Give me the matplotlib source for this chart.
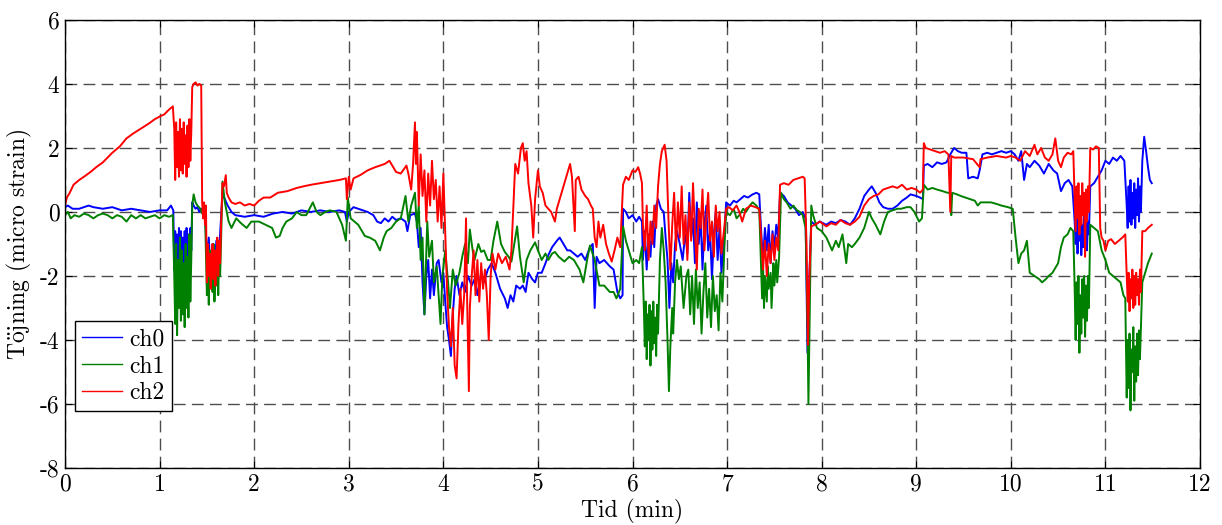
import matplotlib
matplotlib.use('Agg')
import matplotlib.pyplot as plt
import numpy as np

# ==========================================
# DATA (time in minutes, strain in micro strain)
# ==========================================
ch0_pts = [
    (0.0, 0.15), (0.03, 0.2), (0.08, 0.1), (0.15, 0.1), (0.25, 0.2), (0.3, 0.15), (0.4, 0.1), (0.5, 0.15),
    (0.6, 0.05), (0.7, 0.1), (0.8, 0.05), (0.9, 0.0), (1.0, 0.05), (1.08, 0.05), (1.12, 0.2), (1.145, 0.05),
    (1.155, -1.8), (1.165, -0.6), (1.175, -1.9), (1.185, -0.7), (1.195, -2.0), (1.205, -0.5), (1.215, -1.7),
    (1.225, -0.6), (1.235, -1.9), (1.245, -0.8), (1.255, -2.0), (1.265, -0.6), (1.275, -1.8), (1.285, -0.5),
    (1.295, -1.9), (1.305, -0.7), (1.315, -1.8), (1.325, -0.5), (1.335, -1.2),
    (1.345, 0.3), (1.36, 0.2), (1.38, 0.1), (1.4, 0.15), (1.42, 0.0), (1.44, 0.1), (1.46, 0.0), (1.48, 0.1),
    (1.5, -1.5), (1.52, -0.8), (1.54, -2.0), (1.56, -1.0), (1.58, -1.8), (1.6, -0.9), (1.62, -1.7), (1.64, -0.7),
    (1.665, 0.6), (1.69, 0.4), (1.72, 0.2), (1.76, 0.0), (1.8, -0.1), (1.9, -0.15), (2.0, -0.1), (2.1, -0.15),
    (2.2, -0.05), (2.3, 0.0), (2.4, -0.05), (2.5, 0.05), (2.6, 0.0), (2.7, 0.05), (2.8, 0.0), (2.9, 0.05),
    (2.96, 0.0), (2.98, -0.3), (3.0, 0.0), (3.05, 0.15), (3.1, 0.1), (3.2, 0.0), (3.26, -0.1), (3.3, -0.3),
    (3.34, -0.35), (3.38, -0.2), (3.42, -0.3), (3.46, -0.15), (3.5, -0.25), (3.55, -0.2), (3.6, -0.3),
    (3.62, -0.6), (3.65, -0.1), (3.7, -0.05), (3.72, -0.3), (3.74, -1.1), (3.76, -0.5), (3.78, -2.2),
    (3.8, -3.2), (3.82, -2.0), (3.84, -1.5), (3.86, -2.7), (3.88, -1.8), (3.9, -2.6), (3.93, -1.6),
    (3.95, -1.5), (3.98, -2.2), (4.0, -1.9), (4.02, -2.8), (4.04, -3.6), (4.06, -4.0), (4.08, -4.5),
    (4.1, -3.2), (4.12, -2.4), (4.14, -2.0), (4.17, -2.6), (4.2, -2.2), (4.23, -2.5), (4.26, -2.0),
    (4.3, -2.3), (4.33, -2.1), (4.36, -2.6), (4.4, -1.9), (4.43, -2.2), (4.47, -1.8), (4.51, -1.6),
    (4.55, -1.9), (4.6, -2.4), (4.65, -2.7), (4.68, -3.0), (4.71, -2.6), (4.74, -2.8), (4.77, -2.3),
    (4.81, -2.4), (4.84, -2.3), (4.87, -2.5), (4.9, -1.9), (4.94, -2.1), (4.97, -2.2), (5.0, -1.9),
    (5.04, -1.9), (5.08, -1.6), (5.11, -1.35), (5.15, -1.1), (5.2, -0.9), (5.23, -0.8), (5.27, -1.0),
    (5.31, -1.2), (5.34, -1.2), (5.38, -1.3), (5.42, -1.4), (5.46, -1.3), (5.5, -1.5), (5.55, -1.1),
    (5.58, -1.0), (5.6, -3.0), (5.62, -1.4), (5.65, -1.6), (5.7, -1.5), (5.76, -1.7), (5.8, -1.8),
    (5.84, -2.5), (5.87, -2.7), (5.895, -2.6), (5.9, 0.1), (5.93, 0.0), (5.96, -0.2), (6.0, -0.1),
    (6.04, -0.3), (6.07, -0.15), (6.1, -0.3), (6.11, -1.5), (6.13, -0.6), (6.15, -1.8), (6.17, -0.7),
    (6.19, -1.4), (6.21, -0.3), (6.23, -1.1), (6.25, 0.2), (6.27, 0.4), (6.3, 0.1), (6.33, 0.0),
    (6.35, -0.8), (6.37, -1.5), (6.39, -3.0), (6.41, -1.6), (6.43, -2.2), (6.45, -1.0), (6.47, -0.6),
    (6.5, -1.0), (6.53, -1.5), (6.56, -0.6), (6.58, -1.3),
    (6.6, 0.6), (6.62, -0.8), (6.64, -0.2), (6.66, -1.6), (6.68, 0.3), (6.7, -1.0), (6.72, -0.1),
    (6.74, -1.8), (6.76, -0.4), (6.78, 0.2), (6.8, -1.2), (6.82, -0.6), (6.84, -2.1), (6.86, -0.7),
    (6.88, 0.0), (6.9, -1.5), (6.92, -0.5), (6.94, -1.9), (6.97, -0.8),
    (6.99, 0.3), (7.03, 0.2), (7.07, 0.35), (7.1, 0.3), (7.14, 0.4), (7.18, 0.5), (7.22, 0.45), (7.27, 0.55),
    (7.31, 0.6), (7.34, 0.55), (7.36, -0.6), (7.38, -1.5), (7.4, -0.5), (7.42, -1.2), (7.44, -0.4),
    (7.46, -1.6), (7.48, -0.6), (7.5, -1.1), (7.52, -0.4), (7.54, -0.8), (7.56, 0.6), (7.6, 0.5),
    (7.64, 0.3), (7.68, 0.2), (7.72, 0.1), (7.76, -0.1), (7.8, 0.0), (7.83, -0.2), (7.85, -4.4),
    (7.87, -2.0), (7.89, -0.3), (7.93, -0.4), (7.98, -0.3), (8.05, -0.4), (8.1, -0.3), (8.15, -0.35),
    (8.2, -0.25), (8.25, -0.3), (8.3, -0.4), (8.35, -0.2), (8.4, 0.1), (8.45, 0.5), (8.5, 0.7), (8.53, 0.8),
    (8.57, 0.6), (8.61, 0.3), (8.65, 0.15), (8.7, 0.1), (8.75, 0.1), (8.8, 0.2), (8.85, 0.35), (8.9, 0.45),
    (8.94, 0.55), (9.0, 0.5), (9.04, 0.45), (9.07, 0.4),
    (9.08, 1.45), (9.12, 1.5), (9.17, 1.4), (9.22, 1.55), (9.27, 1.5), (9.32, 1.55), (9.36, 1.8), (9.4, 2.0),
    (9.44, 1.9), (9.48, 1.85), (9.53, 1.85), (9.55, 1.05), (9.6, 1.1), (9.65, 1.05), (9.67, 1.3), (9.7, 1.8),
    (9.75, 1.85), (9.8, 1.8), (9.85, 1.85), (9.9, 1.9), (9.95, 1.85), (10.0, 1.9), (10.04, 1.8),
    (10.08, 1.6), (10.11, 1.9), (10.14, 1.0), (10.17, 1.5), (10.2, 1.4), (10.25, 1.6), (10.3, 1.45),
    (10.35, 1.2), (10.4, 1.5), (10.45, 1.3), (10.49, 1.2), (10.53, 0.65), (10.57, 0.9), (10.61, 1.0),
    (10.65, 0.8),
    (10.675, -0.3), (10.685, -1.0), (10.695, 0.1), (10.705, -1.3), (10.715, -0.2), (10.725, -0.9),
    (10.735, 0.0), (10.745, -1.35), (10.755, -0.4), (10.765, -1.1), (10.775, 0.1), (10.785, -0.8),
    (10.795, -0.1), (10.805, -1.2), (10.815, -0.3), (10.825, -0.7),
    (10.84, 0.8), (10.88, 0.9), (10.92, 1.1), (10.96, 1.3), (11.0, 1.6), (11.04, 1.5), (11.08, 1.7),
    (11.12, 1.6), (11.16, 1.75), (11.2, 1.6),
    (11.225, 0.2), (11.235, -0.5), (11.245, 0.8), (11.255, -0.3), (11.265, 1.0), (11.275, -0.4),
    (11.285, 0.6), (11.295, -0.2), (11.305, 0.9), (11.315, -0.5), (11.325, 0.7), (11.335, -0.1),
    (11.345, 1.05), (11.355, -0.3), (11.365, 0.8), (11.375, 0.0),
    (11.39, 1.6), (11.41, 2.35), (11.43, 1.9), (11.45, 1.4), (11.47, 1.0), (11.49, 0.9),
]

ch1_pts = [
    (0.0, -0.1), (0.03, 0.0), (0.06, -0.2), (0.1, -0.1), (0.15, -0.15), (0.2, -0.05), (0.25, -0.1),
    (0.3, -0.2), (0.35, -0.1), (0.4, -0.05), (0.45, -0.1), (0.5, -0.2), (0.55, -0.1), (0.6, -0.15),
    (0.65, -0.3), (0.7, -0.1), (0.75, -0.2), (0.8, -0.1), (0.85, -0.2), (0.9, -0.15), (0.95, -0.1),
    (1.0, -0.2), (1.05, -0.1), (1.1, -0.15), (1.14, -0.1),
    (1.155, -2.0), (1.165, -3.5), (1.175, -1.0), (1.185, -3.85), (1.195, -1.5), (1.205, -3.0),
    (1.215, -0.8), (1.225, -3.4), (1.235, -1.2), (1.245, -3.2), (1.255, -1.6), (1.265, -3.6),
    (1.275, -1.0), (1.285, -3.0), (1.295, -1.4), (1.305, -3.3), (1.315, -0.7), (1.325, -2.8), (1.335, -1.5),
    (1.345, 0.2), (1.36, 0.55), (1.38, 0.3), (1.4, 0.2), (1.43, 0.1), (1.46, -0.1), (1.48, 0.0),
    (1.5, -2.6), (1.51, -1.4), (1.52, -2.9), (1.53, -1.2), (1.54, -2.2), (1.55, -1.6), (1.56, -2.5),
    (1.57, -1.0), (1.58, -2.8), (1.59, -1.8), (1.6, -2.3), (1.61, -1.1), (1.62, -2.6), (1.63, -1.3),
    (1.64, -2.0), (1.65, -0.9),
    (1.665, 0.95), (1.69, 0.3), (1.73, -0.3), (1.76, -0.5), (1.81, -0.2), (1.86, -0.35), (1.92, -0.5),
    (1.97, -0.3), (2.05, -0.3), (2.12, -0.4), (2.19, -0.5), (2.23, -0.8), (2.27, -0.75), (2.3, -0.5),
    (2.34, -0.3), (2.4, -0.2), (2.45, 0.0), (2.5, -0.1), (2.55, -0.1), (2.62, 0.3), (2.66, 0.0),
    (2.7, -0.1), (2.75, 0.0), (2.8, 0.05), (2.87, 0.0), (2.93, -0.4), (2.97, -0.9), (2.99, 0.45),
    (3.02, -0.2), (3.06, -0.3), (3.1, -0.4), (3.17, -0.75), (3.22, -0.8), (3.28, -0.9), (3.33, -1.2),
    (3.37, -0.8), (3.4, -0.6), (3.45, -0.5), (3.5, -0.3), (3.55, -0.2), (3.6, 0.5), (3.63, -0.3),
    (3.66, 0.2), (3.7, 0.6), (3.72, -0.5), (3.74, 0.2), (3.76, -1.5), (3.78, -0.8), (3.8, -3.2),
    (3.82, -1.2), (3.83, -0.3), (3.85, -1.4), (3.88, -0.9), (3.9, -2.2), (3.93, -1.7), (3.95, -2.6),
    (3.97, -3.5), (3.99, -2.0), (4.02, -1.2), (4.05, -2.2), (4.07, -3.0), (4.1, -1.8), (4.13, -2.3),
    (4.17, -1.9), (4.2, -1.4), (4.23, -1.0), (4.26, -1.6), (4.28, -0.55), (4.31, -1.2), (4.33, -1.5),
    (4.37, -1.0), (4.4, -1.25), (4.43, -1.2), (4.47, -1.5), (4.5, -1.5), (4.53, -0.9), (4.57, -0.3),
    (4.61, -1.0), (4.65, -1.25), (4.69, -1.4), (4.72, -1.55), (4.75, -1.0), (4.78, -0.45), (4.81, -1.4),
    (4.85, -2.2), (4.88, -1.5), (4.92, -1.2), (4.97, -0.95), (5.0, -1.2), (5.04, -1.5), (5.08, -1.3),
    (5.11, -1.5), (5.15, -1.3), (5.18, -1.25), (5.22, -1.4), (5.28, -1.55), (5.33, -1.4), (5.38, -1.5),
    (5.44, -1.8), (5.48, -2.2), (5.52, -1.5), (5.55, -1.05), (5.6, -1.5), (5.65, -2.3), (5.7, -2.3),
    (5.76, -2.5), (5.8, -2.5), (5.83, -2.7), (5.87, -2.4), (5.9, -0.45), (5.93, -0.9), (5.97, -1.3),
    (6.0, -1.6), (6.04, -1.5), (6.07, -1.6), (6.1, -1.1),
    (6.12, -3.0), (6.13, -4.2), (6.14, -2.8), (6.15, -4.6), (6.16, -3.2), (6.17, -4.0), (6.18, -2.9),
    (6.19, -4.8), (6.2, -3.1), (6.21, -4.3), (6.22, -2.8), (6.23, -4.1), (6.24, -3.3), (6.25, -4.5),
    (6.26, -2.9), (6.27, -3.8),
    (6.29, -1.5), (6.31, -0.5), (6.33, -1.2), (6.35, -2.2), (6.37, -4.0), (6.385, -5.6), (6.4, -4.2),
    (6.42, -3.0), (6.43, -3.8), (6.45, -2.2), (6.47, -1.5), (6.49, -2.1), (6.51, -1.7), (6.54, -3.0),
    (6.57, -2.0), (6.59, -1.8),
    (6.61, -3.2), (6.63, -2.0), (6.65, -3.5), (6.67, -1.8), (6.69, -3.0), (6.71, -2.2), (6.73, -3.8),
    (6.75, -2.5), (6.77, -1.6), (6.79, -3.3), (6.81, -2.4), (6.83, -3.6), (6.85, -2.0), (6.87, -3.1),
    (6.89, -2.6), (6.91, -3.7), (6.93, -1.9), (6.95, -2.8), (6.97, -1.2),
    (6.99, 0.0), (7.03, -0.1), (7.07, 0.1), (7.1, -0.2), (7.13, -0.1), (7.17, 0.1), (7.2, 0.0), (7.24, 0.2),
    (7.27, 0.3), (7.31, 0.2), (7.34, 0.05),
    (7.36, -1.8), (7.37, -2.7), (7.38, -1.6), (7.39, -3.0), (7.4, -2.0), (7.42, -2.8), (7.43, -1.7),
    (7.44, -2.4), (7.46, -1.9), (7.47, -3.0), (7.49, -1.6), (7.5, -2.3), (7.52, -1.5), (7.53, -2.2),
    (7.55, -1.4),
    (7.57, 0.6), (7.6, 0.4), (7.63, 0.3), (7.67, 0.1), (7.7, 0.2), (7.74, 0.05), (7.77, 0.0), (7.8, -0.1),
    (7.83, -0.5), (7.85, -3.5), (7.86, -6.0), (7.875, -3.0), (7.89, 0.2), (7.91, -0.1), (7.95, -0.5),
    (8.0, -0.6), (8.05, -0.8), (8.08, -1.0), (8.11, -1.2), (8.15, -0.9), (8.18, -1.1), (8.22, -0.7),
    (8.26, -1.6), (8.28, -1.0), (8.32, -1.1), (8.35, -1.0), (8.4, -0.8), (8.45, -0.5), (8.48, -0.2),
    (8.5, 0.0), (8.53, -0.2), (8.57, -0.4), (8.62, -0.7), (8.66, -0.3), (8.7, 0.0), (8.75, 0.05),
    (8.8, 0.1), (8.84, 0.1), (8.9, 0.15), (8.94, 0.15), (8.98, 0.0), (9.03, -0.3), (9.06, -0.2),
    (9.08, 0.85), (9.12, 0.7), (9.17, 0.75), (9.22, 0.7), (9.28, 0.65), (9.33, 0.6), (9.36, 0.6),
    (9.37, -0.1), (9.38, 0.6), (9.43, 0.55), (9.47, 0.5), (9.52, 0.45), (9.57, 0.4), (9.62, 0.35),
    (9.65, 0.2), (9.68, 0.3), (9.73, 0.3), (9.79, 0.3), (9.85, 0.25), (9.9, 0.2), (9.97, 0.15),
    (10.02, 0.1), (10.05, -0.8), (10.08, -1.6), (10.11, -1.3), (10.14, -1.2), (10.17, -0.9), (10.2, -1.9),
    (10.25, -2.0), (10.3, -2.1), (10.33, -2.2), (10.37, -2.1), (10.4, -2.0), (10.44, -1.9), (10.47, -1.75),
    (10.5, -1.6), (10.53, -1.1), (10.56, -0.8), (10.6, -0.7), (10.63, -0.5), (10.66, -0.6),
    (10.675, -2.4), (10.685, -4.0), (10.695, -2.2), (10.705, -3.5), (10.715, -2.0), (10.725, -4.4),
    (10.735, -2.6), (10.745, -3.8), (10.755, -2.1), (10.765, -3.3), (10.775, -2.0), (10.785, -3.9),
    (10.795, -2.3), (10.805, -3.4), (10.815, -2.0), (10.825, -3.0),
    (10.84, -0.4), (10.88, -0.5), (10.92, -0.6), (10.96, -1.2), (11.0, -1.5), (11.04, -1.9), (11.08, -2.0),
    (11.12, -2.1), (11.16, -2.2), (11.19, -2.6), (11.21, -2.7),
    (11.225, -5.8), (11.235, -4.0), (11.245, -5.5), (11.255, -3.8), (11.265, -6.2), (11.275, -4.3),
    (11.285, -5.0), (11.295, -3.6), (11.305, -5.9), (11.315, -4.2), (11.325, -5.3), (11.335, -3.8),
    (11.345, -5.1), (11.355, -3.7), (11.365, -4.6), (11.375, -3.6),
    (11.39, -2.2), (11.42, -1.9), (11.45, -1.6), (11.49, -1.3),
]

ch2_pts = [
    (0.0, 0.2), (0.02, 0.45), (0.05, 0.6), (0.09, 0.85), (0.15, 1.0), (0.2, 1.1), (0.27, 1.25), (0.33, 1.4),
    (0.4, 1.55), (0.5, 1.85), (0.58, 2.05), (0.65, 2.3), (0.72, 2.45), (0.8, 2.6), (0.88, 2.75),
    (0.95, 2.9), (1.0, 2.98), (1.05, 3.05), (1.1, 3.2), (1.14, 3.3),
    (1.155, 2.6), (1.165, 1.0), (1.175, 2.8), (1.185, 1.4), (1.195, 2.5), (1.205, 1.1), (1.215, 2.9),
    (1.225, 1.3), (1.235, 2.6), (1.245, 1.2), (1.255, 2.8), (1.265, 1.5), (1.275, 2.4), (1.285, 1.1),
    (1.295, 2.7), (1.305, 1.4), (1.315, 2.9), (1.325, 1.6), (1.335, 2.5),
    (1.345, 3.9), (1.36, 4.0), (1.38, 4.05), (1.4, 3.95), (1.42, 4.0), (1.44, 3.95), (1.45, 0.3),
    (1.46, -0.2), (1.47, 0.3), (1.48, -0.4), (1.49, 0.2),
    (1.5, -2.2), (1.51, -1.0), (1.52, -2.0), (1.53, -1.3), (1.54, -2.4), (1.55, -1.5), (1.56, -1.0),
    (1.57, -2.1), (1.58, -1.2), (1.59, -2.3), (1.6, -1.4), (1.61, -0.8), (1.62, -2.0), (1.63, -0.9),
    (1.64, -1.6), (1.65, -0.4),
    (1.665, 0.9), (1.68, 0.8), (1.7, 1.15), (1.71, 0.6), (1.73, 0.45), (1.76, 0.3), (1.8, 0.25), (1.85, 0.3),
    (1.9, 0.2), (1.95, 0.25), (2.0, 0.2), (2.05, 0.35), (2.1, 0.45), (2.17, 0.45), (2.25, 0.6), (2.35, 0.65),
    (2.45, 0.75), (2.52, 0.8), (2.6, 0.85), (2.7, 0.9), (2.8, 0.95), (2.9, 1.0), (2.97, 1.05), (2.98, 0.4),
    (3.0, 1.1), (3.02, 0.7), (3.05, 1.05), (3.12, 1.15), (3.2, 1.3), (3.28, 1.4), (3.33, 1.45), (3.38, 1.5),
    (3.43, 1.6), (3.47, 1.4), (3.5, 1.25), (3.55, 1.2), (3.61, 1.45), (3.63, 1.2), (3.66, 0.7), (3.68, 1.5),
    (3.7, 2.8), (3.71, 1.5), (3.72, 2.5), (3.74, 0.2), (3.76, 1.8), (3.78, 0.5), (3.8, 1.3), (3.82, -0.3),
    (3.84, 1.2), (3.86, 0.2), (3.88, 1.6), (3.9, 0.4), (3.92, 1.0), (3.94, -0.3), (3.96, 0.8), (3.98, -0.5),
    (4.0, 1.2), (4.02, -0.6), (4.04, -2.5), (4.06, -3.6), (4.08, -4.2), (4.1, -3.0), (4.12, -4.8),
    (4.14, -5.2), (4.16, -3.5), (4.18, -2.4), (4.2, -3.5), (4.22, -2.6), (4.24, -0.2), (4.25, -2.5),
    (4.27, -5.6), (4.28, -3.0), (4.3, -2.0), (4.32, -1.2), (4.34, -2.6), (4.36, -1.5), (4.38, -2.8),
    (4.4, -1.6), (4.42, -2.4), (4.44, -1.8), (4.46, -2.6), (4.48, -4.0), (4.5, -2.0), (4.52, -1.3),
    (4.55, -1.8), (4.58, -1.3), (4.62, -1.6), (4.66, -1.4), (4.7, -1.8), (4.72, -1.2),
    (4.76, 1.5), (4.79, 1.2), (4.82, 2.0), (4.84, 2.15), (4.86, 1.6), (4.88, 1.9), (4.9, 0.9), (4.93, 0.2),
    (4.95, -0.8), (4.97, 0.4), (5.0, 1.3), (5.02, 0.8), (5.05, 0.6), (5.08, 0.2), (5.11, 0.1), (5.14, 0.0),
    (5.18, -0.3), (5.2, 0.1), (5.24, 0.5), (5.28, 0.9), (5.32, 1.3), (5.34, 1.5), (5.36, 1.1), (5.39, -0.6),
    (5.4, 1.0), (5.43, 1.1), (5.46, 0.7), (5.5, 0.5), (5.53, 0.4), (5.56, 0.2), (5.58, 0.1), (5.6, -0.8),
    (5.62, -1.1), (5.64, -0.3), (5.66, -0.8), (5.69, -0.4), (5.72, -1.0), (5.75, -1.3), (5.78, -1.55),
    (5.81, -1.2), (5.84, -0.8), (5.87, -1.1), (5.9, 0.85), (5.93, 1.1), (5.96, 1.0), (6.0, 1.3),
    (6.03, 1.25), (6.06, 1.4), (6.08, 1.2), (6.1, 0.9), (6.11, -0.4), (6.13, -1.2), (6.15, 0.2),
    (6.17, -1.5), (6.19, -0.3), (6.21, -1.0), (6.23, 0.2), (6.25, -0.5), (6.27, 0.8), (6.29, 1.5),
    (6.31, 1.9), (6.34, 2.1), (6.36, 1.6), (6.38, -0.2), (6.4, -1.8), (6.42, -0.4), (6.44, 0.6),
    (6.46, -1.2), (6.48, 0.3), (6.5, -0.8), (6.52, 0.8), (6.54, -1.0), (6.56, -0.1), (6.58, -1.5),
    (6.6, 0.3), (6.62, -0.9), (6.64, 0.9), (6.66, -0.6), (6.68, -1.8), (6.7, 0.1), (6.72, -0.5), (6.74, 0.7),
    (6.76, -1.2), (6.78, -0.2), (6.8, 0.6), (6.82, -0.9), (6.84, -0.3), (6.86, -1.4), (6.88, 0.2),
    (6.9, -0.6), (6.92, 0.0), (6.94, -1.3), (6.97, -0.5),
    (6.99, 0.1), (7.02, 0.15), (7.06, 0.05), (7.1, 0.2), (7.13, 0.0), (7.16, -0.3), (7.2, 0.1), (7.25, 0.2),
    (7.3, 0.15), (7.34, 0.1), (7.36, -0.8), (7.38, -1.8), (7.4, -0.9), (7.42, -2.0), (7.44, -1.0),
    (7.46, -1.6), (7.48, -0.7), (7.5, -1.5), (7.52, -0.8), (7.54, -1.2), (7.56, 0.85), (7.6, 0.9),
    (7.65, 0.85), (7.7, 1.0), (7.75, 1.05), (7.8, 1.1), (7.82, 1.05), (7.84, -1.0), (7.855, -4.15),
    (7.87, -2.0), (7.89, -0.45), (7.93, -0.4), (7.98, -0.3), (8.05, -0.45), (8.1, -0.35), (8.15, -0.4),
    (8.2, -0.25), (8.25, -0.35), (8.3, -0.4), (8.35, -0.3), (8.4, -0.15), (8.45, 0.2), (8.5, 0.4),
    (8.55, 0.5), (8.6, 0.55), (8.65, 0.7), (8.7, 0.75), (8.75, 0.8), (8.8, 0.75), (8.85, 0.85), (8.9, 0.7),
    (8.95, 0.75), (9.0, 0.7), (9.04, 0.6), (9.07, 0.7),
    (9.08, 2.15), (9.1, 2.0), (9.15, 1.95), (9.2, 1.9), (9.25, 1.85), (9.3, 1.9), (9.34, 1.8), (9.36, 0.0),
    (9.37, 1.75), (9.4, 1.7), (9.5, 1.7), (9.6, 1.65), (9.67, 1.4), (9.68, 1.65), (9.75, 1.7), (9.85, 1.75),
    (9.95, 1.7), (10.0, 1.75), (10.05, 1.7), (10.1, 1.6), (10.15, 1.9), (10.2, 1.75), (10.25, 2.1),
    (10.28, 1.8), (10.32, 2.0), (10.36, 1.7), (10.4, 1.6), (10.44, 1.8), (10.47, 2.3), (10.5, 1.6),
    (10.53, 1.4), (10.56, 1.7), (10.6, 1.85), (10.64, 1.8), (10.66, 1.9),
    (10.675, 0.4), (10.685, -0.6), (10.695, 0.8), (10.705, -0.2), (10.715, 0.9), (10.725, -0.7),
    (10.735, 0.5), (10.745, -0.4), (10.755, 0.9), (10.765, -0.1), (10.775, 0.6), (10.785, -1.4),
    (10.795, 0.7), (10.805, -0.3), (10.815, 0.8), (10.825, 0.0),
    (10.84, 2.0), (10.87, 1.95), (10.9, 2.05), (10.93, 2.0), (10.945, -0.5), (10.96, -0.8), (10.98, -0.9),
    (11.0, -1.2), (11.03, -0.9), (11.06, -0.85), (11.1, -1.0), (11.14, -0.9), (11.18, -0.8), (11.21, -0.7),
    (11.225, -2.0), (11.235, -2.8), (11.245, -1.9), (11.255, -3.1), (11.265, -2.1), (11.275, -2.7),
    (11.285, -1.8), (11.295, -3.0), (11.305, -2.0), (11.315, -2.9), (11.325, -1.9), (11.335, -2.6),
    (11.345, -2.1), (11.355, -2.9), (11.365, -1.8), (11.375, -2.5),
    (11.39, -0.6), (11.42, -0.6), (11.45, -0.5), (11.49, -0.4),
]

channel_names = ['ch0', 'ch1', 'ch2']
channel_colors = ['#0000ff', '#008000', '#ff0000']
x_ticks = list(range(0, 13))
y_ticks = list(range(-8, 7, 2))

# ==========================================
# PLOT
# ==========================================
plt.rcParams['font.family'] = ['cmr10', 'DejaVu Serif']
plt.rcParams['mathtext.fontset'] = 'cm'
plt.rcParams['axes.unicode_minus'] = False
plt.rcParams['font.size'] = 17

fig = plt.figure(figsize=(12.22, 5.25), dpi=100)
ax = fig.add_axes([0.0532, 0.1086, 0.9288, 0.8534])

for pts, name, color in zip([ch0_pts, ch1_pts, ch2_pts], channel_names, channel_colors):
    t = np.array([p[0] for p in pts])
    v = np.array([p[1] for p in pts])
    ax.plot(t, v, color=color, lw=1.4, label=name)

ax.set_xlim(0, 12)
ax.set_ylim(-8, 6)
ax.set_xticks(x_ticks)
ax.set_yticks(y_ticks)
ax.tick_params(direction='in', top=True, right=True, length=5, width=0.8, labelsize=17, pad=4)
ax.grid(True, color='0.3', linestyle=(0, (8.5, 4.5)), linewidth=1.0)
for s in ax.spines.values():
    s.set_linewidth(1.0)

ax.set_xlabel('Tid (min)', fontsize=17, labelpad=2)
ax.set_ylabel(r'T$\ddot{\rm o}$jning (micro strain)', fontsize=17, labelpad=4)

leg = ax.legend(loc='upper left', bbox_to_anchor=(0.009, 0.327), fontsize=17, frameon=True,
                fancybox=False, edgecolor='black', framealpha=1, handlelength=1.7,
                borderpad=0.3, labelspacing=0.2, handletextpad=0.3, borderaxespad=0)
leg.get_frame().set_linewidth(1.0)
for line in leg.get_lines():
    line.set_linewidth(1.0)

fig.savefig('out.png', dpi=100)
